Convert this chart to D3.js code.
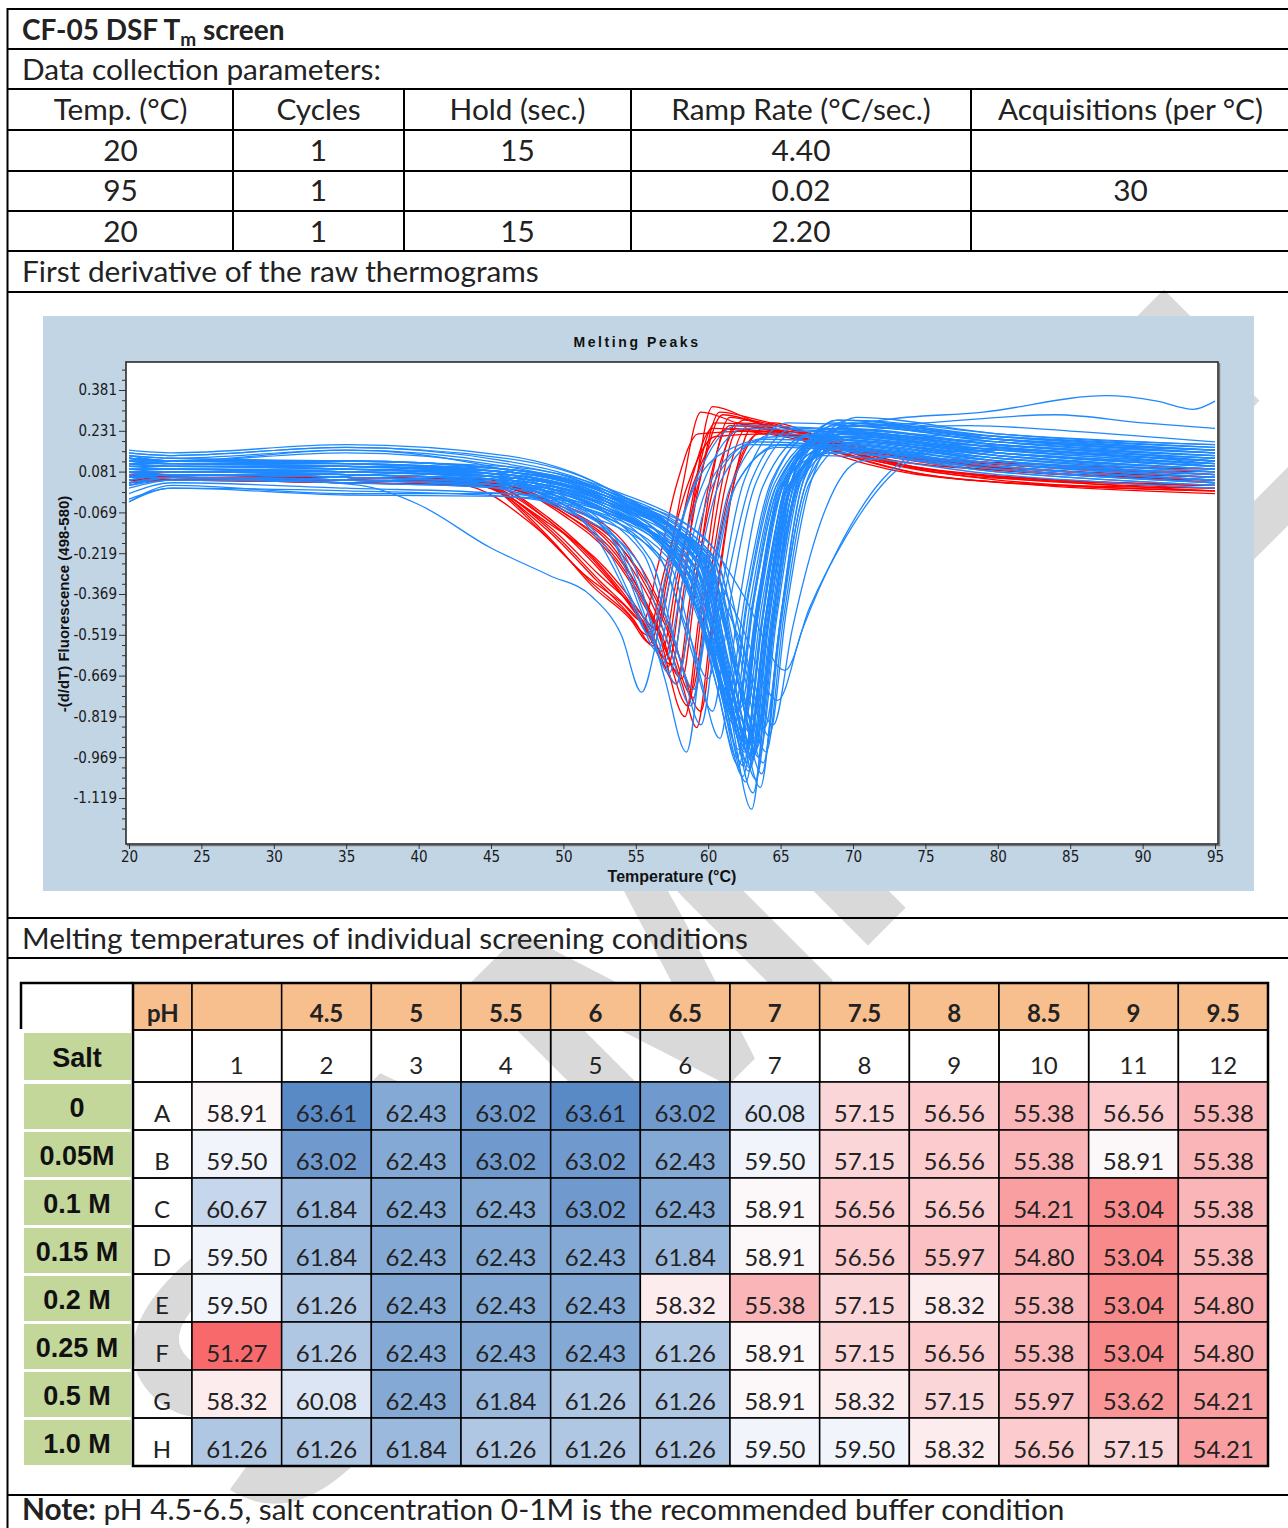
<!DOCTYPE html>
<html>
<head>
<meta charset="utf-8">
<script src="https://cdn.jsdelivr.net/npm/d3@7"></script>
<style>
  body { margin: 0; background: #fff; }
  svg  { display: block; }
  .doc    { font-family: Lato, 'Open Sans', sans-serif; fill: #222; }
  .axis text { font-family: 'Liberation Sans Narrow', 'DejaVu Sans Condensed', 'Liberation Sans', sans-serif; font-size: 15px; fill: #1a1a1a; }
  .axis line { stroke: #333; }
  .axis .domain { display: none; }
</style>
</head>
<body>
<script>
// ========================================
// Values read from the sheet
// ========================================
const paramHeaders = ['Temp. (°C)', 'Cycles', 'Hold (sec.)', 'Ramp Rate (°C/sec.)', 'Acquisitions (per °C)'];
const paramRows = [
  ['20', '1', '15', '4.40', ''],
  ['95', '1', '',   '0.02', '30'],
  ['20', '1', '15', '2.20', '']
];

// Melting peaks plot: axis ticks
const xTicks = [20, 25, 30, 35, 40, 45, 50, 55, 60, 65, 70, 75, 80, 85, 90, 95];
const yTicks = [0.381, 0.231, 0.081, -0.069, -0.219, -0.369, -0.519, -0.669, -0.819, -0.969, -1.119];

// Melting peaks plot: [temperature, -(d/dT)] points
const redCurves = [
  [[20,.06],[23,.06],[35,.05],[44,.04],[49,-.16],[52,-.34],[54.6,-.46],[56,-.55],[57,-.33],[58.2,.02],[59.5,.3],[62,.26],[67,.2],[73,.12],[82,.08],[95,.05]],
  [[20,.05],[23,.05],[35,.05],[45,.03],[50,-.06],[54,-.22],[56.5,-.45],[58.2,-.7],[59.2,-.86],[60.2,-.5],[61.7,.02],[63,.2],[64.5,.26],[68,.2],[74,.1],[83,.05],[95,.01]],
  [[20,.07],[23,.06],[35,.06],[45,.04],[50,-.05],[54,-.2],[56.5,-.4],[58,-.6],[58.9,-.72],[59.8,-.42],[61.2,.03],[62.8,.25],[66,.21],[72,.15],[82,.1],[95,.08]],
  [[20,.08],[23,.07],[35,.06],[44,.05],[49,-.1],[52.5,-.28],[55.5,-.47],[57.5,-.63],[58.3,-.36],[59.2,.05],[60.3,.32],[63,.27],[68,.17],[74,.08],[83,.03],[95,.0]],
  [[20,.04],[23,.05],[35,.04],[44,.03],[49,-.12],[52.5,-.3],[55,-.42],[56.5,-.5],[57.5,-.28],[58.8,.04],[60.3,.24],[64,.22],[70,.16],[78,.11],[95,.06]],
  [[20,.06],[23,.06],[35,.05],[45,.04],[50,-.08],[53.5,-.24],[56.3,-.48],[58.2,-.68],[59,-.4],[60.2,.04],[61.5,.28],[64.5,.24],[69,.15],[75,.07],[85,.03],[95,.02]],
  [[20,.05],[23,.05],[35,.04],[43,.03],[48,-.12],[51.5,-.3],[54,-.4],[55.5,-.47],[56.5,-.27],[57.8,.03],[59.3,.22],[63,.23],[68,.19],[75,.13],[95,.09]],
  [[20,.07],[23,.07],[35,.06],[44,.04],[49,-.1],[53,-.3],[55.5,-.48],[57,-.6],[57.9,-.34],[59.1,.03],[60.5,.26],[63.5,.25],[68,.18],[74,.1],[84,.05],[95,.03]],
  [[20,.05],[23,.06],[35,.05],[45,.03],[50,-.07],[54,-.25],[56.8,-.52],[58.6,-.78],[59.5,-.46],[60.8,.0],[62,.23],[65.5,.23],[70,.17],[77,.11],[95,.05]],
  [[20,.06],[23,.06],[35,.05],[44,.04],[49,-.13],[52.5,-.32],[55.3,-.47],[56.8,-.58],[57.8,-.32],[59.4,.05],[61,.29],[64,.25],[69,.14],[76,.06],[95,.01]],
  [[20,.07],[23,.07],[35,.06],[45,.05],[50,-.04],[54.5,-.2],[57.3,-.48],[59.5,-.8],[60.4,-.46],[61.7,.02],[63,.24],[66.5,.22],[71,.16],[78,.12],[95,.07]],
  [[20,.04],[23,.05],[35,.04],[44,.03],[49,-.11],[53,-.28],[56,-.5],[57.8,-.7],[58.7,-.4],[60,.02],[61.5,.25],[65,.23],[70,.14],[78,.07],[95,.02]],
  [[20,.06],[23,.06],[35,.05],[44,.04],[48.5,-.14],[52,-.33],[54.4,-.44],[55.8,-.52],[56.9,-.3],[58.5,.02],[60.5,.21],[64,.22],[69,.18],[76,.12],[95,.06]],
  [[20,.05],[23,.05],[35,.05],[45,.03],[50,-.07],[53.8,-.25],[56.3,-.47],[58,-.66],[58.9,-.38],[60.4,.03],[62.5,.27],[66,.23],[71,.13],[79,.06],[95,.03]],
  [[20,.07],[23,.07],[35,.06],[44,.05],[49,-.09],[52.8,-.28],[55.6,-.48],[57.2,-.64],[58.1,-.36],[59.4,.04],[60.8,.3],[63.5,.27],[68.5,.2],[75,.12],[85,.08],[95,.04]],
  [[20,.06],[23,.06],[35,.05],[45,.04],[50,-.06],[54.3,-.22],[57,-.48],[59,-.75],[59.9,-.43],[61.5,.01],[63.5,.22],[67,.21],[72,.12],[80,.05],[95,.01]],
  [[20,.05],[23,.05],[35,.04],[44,.03],[48.8,-.13],[52.3,-.32],[54.8,-.46],[56.2,-.56],[57.2,-.31],[59,.04],[61.5,.24],[65,.22],[70,.16],[77,.1],[95,.05]],
  [[20,.06],[23,.06],[35,.05],[45,.04],[50,-.06],[54,-.24],[56.6,-.52],[58.4,-.82],[59.3,-.48],[60.6,.02],[62,.26],[65.5,.24],[70,.15],[77,.08],[95,.03]]
];

const blueMainCurves = [
  [[20,.10],[23,.09],[35,.08],[46,.06],[53,-.02],[59,-.24],[61,-.66],[62.5,-.95],[63.7,-.48],[65.5,.06],[68.5,.24],[80,.18],[95,.14]],
  [[20,.05],[23,.07],[35,.06],[46,.04],[53,-.05],[59.3,-.28],[61.3,-.72],[62.8,-1.02],[64,-.5],[65.8,.04],[68.8,.19],[80,.12],[95,.07]],
  [[20,.14],[23,.12],[35,.15],[46,.1],[53,.0],[59.5,-.22],[61.5,-.7],[63,-.98],[64.2,-.47],[66,.08],[69,.27],[80,.2],[95,.16]],
  [[20,-.03],[23,.03],[35,.0],[46,.0],[53,-.06],[58.7,-.3],[60.7,-.64],[62.2,-.9],[63.4,-.44],[65.2,.03],[68.2,.17],[80,.1],[95,.05]],
  [[20,.08],[23,.08],[35,.07],[46,.05],[53,-.03],[59.8,-.26],[61.8,-.74],[63.3,-1.05],[64.5,-.52],[66.3,.05],[69.3,.22],[80,.16],[95,.11]],
  [[20,.12],[23,.11],[35,.1],[46,.07],[53,-.04],[58.3,-.3],[60.3,-.6],[61.8,-.85],[63,-.42],[64.8,.04],[67.8,.2],[80,.15],[95,.1]],
  [[20,.03],[23,.06],[35,.04],[46,.02],[53,-.07],[59.1,-.27],[61.1,-.66],[62.6,-.92],[63.8,-.45],[65.6,.03],[68.6,.16],[80,.09],[95,.04]],
  [[20,.16],[23,.15],[35,.18],[46,.14],[53,.02],[59.6,-.25],[61.6,-.78],[63.1,-1.1],[64.3,-.55],[66.1,.07],[69.1,.26],[80,.21],[95,.17]],
  [[20,.07],[23,.07],[35,.06],[46,.04],[53,-.05],[58.5,-.28],[60.5,-.58],[62,-.8],[63.2,-.38],[65,.05],[68,.21],[80,.14],[95,.09]],
  [[20,.1],[23,.1],[35,.09],[46,.06],[53,-.01],[60,-.24],[62,-.68],[63.5,-.97],[64.7,-.47],[66.5,.06],[69.5,.25],[80,.19],[95,.15]],
  [[20,-.02],[23,.02],[35,-.005],[46,-.01],[53,-.08],[58.9,-.31],[60.9,-.7],[62.4,-1.0],[63.6,-.5],[65.4,.02],[68.4,.15],[80,.08],[95,.03]],
  [[20,.13],[23,.12],[35,.12],[46,.09],[53,-.03],[58,-.29],[60,-.56],[61.5,-.78],[62.7,-.38],[64.5,.05],[67.5,.23],[80,.17],[95,.12]],
  [[20,.06],[23,.08],[35,.07],[46,.05],[53,-.04],[59.4,-.25],[61.4,-.62],[62.9,-.88],[64.1,-.43],[65.9,.04],[68.9,.18],[80,.11],[95,.06]],
  [[20,.11],[23,.1],[35,.1],[46,.08],[53,.01],[60.2,-.22],[62.2,-.72],[63.7,-1.03],[64.9,-.5],[66.7,.07],[69.7,.27],[80,.22],[95,.18]],
  [[20,.04],[23,.06],[35,.05],[46,.03],[53,-.06],[58.6,-.3],[60.6,-.67],[62.1,-.94],[63.3,-.46],[65.1,.03],[68.1,.2],[80,.13],[95,.08]],
  [[20,.09],[23,.09],[35,.08],[46,.06],[53,-.02],[59.5,-.27],[61.5,-.8],[63,-1.16],[64.2,-.58],[66,.04],[69,.22],[80,.15],[95,.1]],
  [[20,.15],[23,.14],[35,.17],[46,.12],[53,.01],[59.2,-.24],[61.2,-.7],[62.7,-.99],[63.9,-.49],[65.7,.07],[68.7,.25],[80,.2],[95,.16]],
  [[20,-.03],[23,.02],[35,.01],[46,-.01],[53,-.09],[58.4,-.32],[60.4,-.6],[61.9,-.83],[63.1,-.41],[64.9,.02],[67.9,.14],[80,.07],[95,.02]],
  [[20,.07],[23,.08],[35,.08],[46,.06],[53,-.02],[59.9,-.23],[61.9,-.66],[63.4,-.93],[64.6,-.45],[66.4,.05],[69.4,.21],[80,.15],[95,.1]],
  [[20,.12],[23,.11],[35,.11],[46,.08],[53,-.01],[58.8,-.26],[60.8,-.62],[62.3,-.87],[63.5,-.43],[65.3,.05],[68.3,.24],[80,.18],[95,.13]],
  [[20,.05],[23,.07],[35,.06],[46,.04],[53,-.04],[60.5,-.24],[62.5,-.67],[64,-.95],[65.2,-.46],[67,.04],[70,.19],[80,.12],[95,.07]],
  [[20,.13],[23,.12],[35,.16],[46,.11],[53,.0],[59.1,-.27],[61.1,-.75],[62.6,-1.06],[63.8,-.53],[65.6,.06],[68.6,.26],[80,.2],[95,.15]],
  [[20,.08],[23,.08],[35,.07],[46,.05],[53,-.05],[58.1,-.28],[60.1,-.55],[61.6,-.76],[62.8,-.37],[64.6,.04],[67.6,.2],[80,.14],[95,.09]],
  [[20,.03],[23,.05],[35,.05],[46,.03],[53,-.06],[59.7,-.27],[61.7,-.68],[63.2,-.96],[64.4,-.47],[66.2,.03],[69.2,.17],[80,.1],[95,.05]],
  [[20,.1],[23,.1],[35,.09],[46,.07],[53,-.02],[59.3,-.25],[61.3,-.65],[62.8,-.91],[64,-.45],[65.8,.05],[68.8,.23],[80,.17],[95,.12]],
  [[20,.14],[23,.13],[35,.12],[46,.1],[53,.02],[60.7,-.22],[62.7,-.63],[64.2,-.89],[65.4,-.43],[67.2,.06],[70.2,.28],[80,.22],[95,.18]],
  [[20,.06],[23,.07],[35,.06],[46,.04],[53,-.05],[58.5,-.31],[60.5,-.69],[62,-.97],[63.2,-.48],[65,.03],[68,.18],[80,.11],[95,.06]],
  [[20,.11],[23,.11],[35,.1],[46,.08],[53,-.01],[60.1,-.26],[62.1,-.76],[63.6,-1.08],[64.8,-.54],[66.6,.05],[69.6,.25],[80,.19],[95,.14]],
  [[20,.0],[23,.04],[35,.02],[46,.0],[53,-.07],[59,-.29],[61,-.6],[62.5,-.84],[63.7,-.41],[65.5,.02],[68.5,.15],[80,.08],[95,.03]],
  [[20,.09],[23,.09],[35,.09],[46,.07],[53,-.03],[57.9,-.27],[59.9,-.52],[61.4,-.73],[62.6,-.36],[64.4,.05],[67.4,.22],[80,.16],[95,.11]],
  [[20,.07],[23,.08],[35,.07],[46,.05],[53,-.03],[60.3,-.24],[62.3,-.7],[63.8,-.99],[65,-.49],[66.8,.04],[69.8,.21],[80,.14],[95,.09]],
  [[20,.15],[23,.14],[35,.17],[46,.13],[53,.02],[59.4,-.24],[61.4,-.71],[62.9,-1.01],[64.1,-.5],[65.9,.07],[68.9,.27],[80,.21],[95,.16]],
  [[20,.04],[23,.06],[35,.05],[46,.03],[53,-.06],[58.7,-.28],[60.7,-.56],[62.2,-.79],[63.4,-.39],[65.2,.03],[68.2,.17],[80,.1],[95,.05]],
  [[20,.12],[23,.12],[35,.11],[46,.08],[53,-.01],[59.8,-.24],[61.8,-.64],[63.3,-.9],[64.5,-.44],[66.3,.06],[69.3,.24],[80,.18],[95,.13]],
  [[20,.06],[23,.07],[35,.06],[46,.04],[53,-.06],[58.2,-.3],[60.2,-.58],[61.7,-.82],[62.9,-.4],[64.7,.03],[67.7,.19],[80,.12],[95,.07]],
  [[20,.09],[23,.09],[35,.08],[46,.06],[53,-.03],[58.9,-.29],[60.9,-.74],[62.4,-1.04],[63.6,-.52],[65.4,.04],[68.4,.23],[80,.17],[95,.12]],
  [[20,.13],[23,.12],[35,.12],[46,.09],[53,.0],[60.4,-.23],[62.4,-.61],[63.9,-.86],[65.1,-.42],[66.9,.06],[69.9,.26],[80,.2],[95,.15]],
  [[20,.02],[23,.05],[35,.04],[46,.02],[53,-.07],[59.2,-.28],[61.2,-.67],[62.7,-.95],[63.9,-.47],[65.7,.03],[68.7,.16],[80,.09],[95,.04]],
  [[20,.08],[23,.09],[35,.08],[46,.06],[53,-.02],[59.6,-.23],[61.6,-.59],[63.1,-.83],[64.3,-.41],[66.1,.05],[69.1,.22],[80,.15],[95,.1]],
  [[20,.11],[23,.1],[35,.1],[46,.07],[53,-.02],[58.6,-.3],[60.6,-.71],[62.1,-1.0],[63.3,-.5],[65.1,.05],[68.1,.2],[80,.13],[95,.08]]
];

const blueEarlyCurves = [
  [[20,.07],[23,.08],[35,.07],[44,.05],[50,-.04],[54.5,-.22],[57,-.68],[58.5,-.95],[59.7,-.5],[61.5,.02],[64.5,.22],[80,.16],[95,.12]],
  [[20,.1],[23,.1],[35,.09],[44,.07],[50,-.02],[53.5,-.18],[55.5,-.45],[57,-.62],[58.2,-.33],[60,.03],[63,.18],[80,.11],[95,.06]],
  [[20,.05],[23,.07],[35,.06],[44,.04],[50,-.05],[53,-.2],[55,-.42],[56.5,-.58],[57.7,-.3],[59.5,.02],[62.5,.24],[80,.19],[95,.15]],
  [[20,.12],[23,.11],[35,.11],[44,.08],[50,-.01],[54,-.2],[56.3,-.5],[57.8,-.7],[59,-.36],[60.8,.04],[63.8,.2],[80,.13],[95,.08]],
  [[20,.03],[23,.06],[35,.05],[44,.03],[50,-.06],[55,-.24],[57.3,-.56],[58.8,-.78],[60,-.4],[61.8,.02],[64.8,.17],[80,.09],[95,.04]],
  [[20,.09],[23,.09],[35,.08],[44,.06],[50,-.04],[52.5,-.18],[54.5,-.38],[56,-.52],[57.2,-.27],[59,.03],[62,.25],[80,.2],[95,.16]],
  [[20,.14],[23,.13],[35,.16],[44,.11],[50,.01],[56,-.24],[58,-.6],[59.5,-.85],[60.7,-.43],[62.5,.05],[65.5,.26],[80,.21],[95,.17]],
  [[20,.06],[23,.07],[35,.07],[44,.05],[50,-.03],[53.8,-.2],[55.8,-.47],[57.3,-.66],[58.5,-.34],[60.3,.03],[63.3,.19],[80,.12],[95,.07]],
  [[20,.08],[23,.08],[35,.08],[44,.06],[50,-.02],[56.8,-.25],[58.8,-.57],[60.3,-.8],[61.5,-.4],[63.3,.04],[66.3,.23],[80,.17],[95,.13]],
  [[20,.11],[23,.1],[35,.1],[44,.07],[50,-.02],[55.5,-.22],[57.5,-.52],[59,-.72],[60.2,-.37],[62,.04],[65,.18],[80,.1],[95,.05]],
  [[20,.04],[23,.06],[35,.05],[44,.03],[50,-.05],[57.3,-.26],[59.3,-.64],[60.8,-.9],[62,-.45],[63.8,.03],[66.8,.21],[80,.15],[95,.11]],
  [[20,.13],[23,.12],[35,.11],[44,.09],[50,.0],[56.5,-.22],[58.5,-.49],[60,-.68],[61.2,-.35],[63,.05],[66,.24],[80,.18],[95,.14]],
  [[20,.06],[30,.05],[36,.03],[40,-.04],[45,-.2],[49,-.3],[52,-.38],[54,-.52],[55.4,-.73],[56.6,-.5],[58.5,-.05],[61,.15],[65,.21],[80,.14],[95,.09]]
];

const blueLateCurves = [
  [[20,.08],[23,.08],[35,.07],[46,.05],[53,-.03],[59,-.18],[62,-.45],[64.8,-.76],[66.5,-.5],[69,-.2],[72,.05],[76,.17],[85,.15],[95,.1]],
  [[20,.1],[23,.1],[35,.09],[46,.07],[53,-.01],[59.5,-.15],[62.5,-.38],[65.3,-.65],[67,-.42],[69.5,-.16],[72.5,.06],[77,.18],[85,.16],[95,.12]],
  [[20,.06],[23,.07],[35,.06],[46,.04],[53,-.04],[59,-.2],[62.3,-.55],[64.5,-.85],[65.8,-.5],[67.8,-.1],[70.5,.12],[80,.16],[95,.11]],
  [[20,.13],[23,.12],[35,.12],[46,.09],[53,.0],[59.6,-.24],[61.6,-.7],[63.1,-.97],[64.3,-.48],[66.1,.1],[69,.24],[72,.27],[79,.3],[87.5,.36],[91,.34],[93.5,.31],[95,.34]],
  [[20,.12],[23,.12],[35,.11],[46,.09],[53,.01],[59.3,-.23],[61.3,-.66],[62.8,-.92],[64,-.44],[65.8,.09],[69,.24],[75,.26],[84,.29],[90,.26],[95,.24]],
  [[20,.11],[23,.11],[35,.1],[46,.08],[53,.0],[59.9,-.22],[61.9,-.62],[63.4,-.88],[64.6,-.42],[66.4,.08],[70,.23],[78,.25],[85,.23],[95,.19]]
];

// Melting temperatures (Tm, °C) per well
const phLabels   = ['', '4.5', '5', '5.5', '6', '6.5', '7', '7.5', '8', '8.5', '9', '9.5'];
const colNumbers = [1, 2, 3, 4, 5, 6, 7, 8, 9, 10, 11, 12];
const rowLetters = ['A', 'B', 'C', 'D', 'E', 'F', 'G', 'H'];
const saltLabels = ['0', '0.05M', '0.1 M', '0.15 M', '0.2 M', '0.25 M', '0.5 M', '1.0 M'];
const tmValues = [
  [58.91, 63.61, 62.43, 63.02, 63.61, 63.02, 60.08, 57.15, 56.56, 55.38, 56.56, 55.38],
  [59.50, 63.02, 62.43, 63.02, 63.02, 62.43, 59.50, 57.15, 56.56, 55.38, 58.91, 55.38],
  [60.67, 61.84, 62.43, 62.43, 63.02, 62.43, 58.91, 56.56, 56.56, 54.21, 53.04, 55.38],
  [59.50, 61.84, 62.43, 62.43, 62.43, 61.84, 58.91, 56.56, 55.97, 54.80, 53.04, 55.38],
  [59.50, 61.26, 62.43, 62.43, 62.43, 58.32, 55.38, 57.15, 58.32, 55.38, 53.04, 54.80],
  [51.27, 61.26, 62.43, 62.43, 62.43, 61.26, 58.91, 57.15, 56.56, 55.38, 53.04, 54.80],
  [58.32, 60.08, 62.43, 61.84, 61.26, 61.26, 58.91, 58.32, 57.15, 55.97, 53.62, 54.21],
  [61.26, 61.26, 61.84, 61.26, 61.26, 61.26, 59.50, 59.50, 58.32, 56.56, 57.15, 54.21]
];

// ========================================
// Page size and base svg
// ========================================
const width = 1288,
  height = 1528,
  textFont = "Lato, 'Open Sans', sans-serif",
  docSize = 29.8,                 // body text of the sheet
  cellSize = 24,                  // numbers inside the plate table
  narrowBold = "'Liberation Sans Narrow', 'Arial Narrow', 'Liberation Sans', sans-serif";

const svg = d3.select('body')
  .append('svg')
    .attr('width', width)
    .attr('height', height);

// ========================================
// Watermark (behind everything)
// ========================================
svg.append('text')
    .attr('transform', 'translate(720, 905) rotate(-45)')
    .attr('text-anchor', 'middle')
    .attr('dy', '0.36em')
    .attr('fill', '#d9d9d9')
    .style('font', "bold 370px 'Liberation Sans', Arial, sans-serif")
    .text('SAMPLE');

// ========================================
// Outer sheet frame and section rows
// ========================================
const frame = svg.append('g').attr('class', 'doc');
const rowLines = [9, 49, 89, 130, 171, 211, 251, 292, 918, 958, 1495];

frame.selectAll('line.row')
  .data(rowLines)
  .join('line')
    .attr('x1', 7).attr('x2', width + 2)
    .attr('y1', d => d).attr('y2', d => d)
    .attr('stroke', '#000')
    .attr('stroke-width', 2);

frame.append('line')
    .attr('x1', 7.5).attr('x2', 7.5)
    .attr('y1', 8).attr('y2', height)
    .attr('stroke', '#000')
    .attr('stroke-width', 2);

// title with subscript m
const title = frame.append('text')
    .attr('x', 22).attr('y', 40)
    .style('font', `bold 28px ${textFont}`);
title.append('tspan').text('CF-05 DSF T');
title.append('tspan').attr('dy', 6).style('font-size', '19px').text('m');
title.append('tspan').attr('dy', -6).text(' screen');

const sectionLabels = [
  { y: 80,  text: 'Data collection parameters:' },
  { y: 282, text: 'First derivative of the raw thermograms' },
  { y: 949, text: 'Melting temperatures of individual screening conditions' }
];
frame.selectAll('text.section')
  .data(sectionLabels)
  .join('text')
    .attr('class', 'section')
    .attr('x', 22)
    .attr('y', d => d.y)
    .style('font', `${docSize}px ${textFont}`)
    .text(d => d.text);

// note row sits at the bottom edge of the page
const note = frame.append('text')
    .attr('x', 22).attr('y', 1520)
    .style('font', `${docSize}px ${textFont}`);
note.append('tspan').style('font-weight', 'bold').text('Note:');
note.append('tspan').text(' pH 4.5-6.5, salt concentration 0-1M is the recommended buffer condition');

// ========================================
// Data collection parameter table
// ========================================
const colEdges = [8, 233, 404, 631, 971, 1290];
const paramTop = 89, paramRowH = 40.7;

frame.selectAll('line.pcol')
  .data(colEdges.slice(1, 5))
  .join('line')
    .attr('x1', d => d).attr('x2', d => d)
    .attr('y1', paramTop).attr('y2', 251)
    .attr('stroke', '#000')
    .attr('stroke-width', 2);

[paramHeaders, ...paramRows].forEach((row, r) => {
  frame.selectAll(null)
    .data(row)
    .join('text')
      .attr('x', (d, i) => (colEdges[i] + colEdges[i + 1]) / 2)
      .attr('y', paramTop + r * paramRowH + 31)
      .attr('text-anchor', 'middle')
      .style('font', `${docSize}px ${textFont}`)
      .text(d => d);
});

// ========================================
// Melting Peaks plot
// ========================================
const plot = { left: 126, right: 1218, top: 362, bottom: 844 };

const xScale = d3.scaleLinear().domain([20, 95]).range([129, 1215]);
const yScale = d3.scaleLinear().domain([0.381, -1.119]).range([390, 798]);

const chart = svg.append('g');

chart.append('rect')
    .attr('x', 43).attr('y', 316)
    .attr('width', 1211).attr('height', 575)
    .attr('fill', '#c2d5e5');

chart.append('rect')
    .attr('x', plot.left).attr('y', plot.top)
    .attr('width', plot.right - plot.left).attr('height', plot.bottom - plot.top)
    .attr('fill', '#fff');

svg.append('clipPath')
    .attr('id', 'plotClip')
  .append('rect')
    .attr('x', plot.left).attr('y', plot.top)
    .attr('width', plot.right - plot.left).attr('height', plot.bottom - plot.top);

const line = d3.line()
  .x(d => xScale(d[0]))
  .y(d => yScale(d[1]))
  .curve(d3.curveMonotoneX);

const traces = chart.append('g').attr('clip-path', 'url(#plotClip)');

const traceGroups = [
  { curves: redCurves,       color: '#ff0000' },
  { curves: blueMainCurves,  color: '#1e88ff' },
  { curves: blueEarlyCurves, color: '#1e88ff' },
  { curves: blueLateCurves,  color: '#1e88ff' }
];
traceGroups.forEach(group => {
  traces.append('g')
    .selectAll('path')
    .data(group.curves)
    .join('path')
      .attr('d', line)
      .attr('fill', 'none')
      .attr('stroke', group.color)
      .attr('stroke-width', 1.3);
});

// plot frame: dark edge plus a grey shadow right/bottom
chart.append('rect')
    .attr('x', plot.left).attr('y', plot.top)
    .attr('width', plot.right - plot.left).attr('height', plot.bottom - plot.top)
    .attr('fill', 'none')
    .attr('stroke', '#2b2b2b')
    .attr('stroke-width', 1.6);
chart.append('path')
    .attr('d', `M${plot.right + 1.6},${plot.top + 1} V${plot.bottom + 1.6} H${plot.left + 1}`)
    .attr('fill', 'none')
    .attr('stroke', '#777')
    .attr('stroke-width', 1.2);

// --- Y axis (major ticks with labels, minor ticks without)
chart.append('g')
    .attr('class', 'axis')
    .attr('transform', `translate(${plot.left}, 0)`)
    .call(d3.axisLeft(yScale).tickValues(yTicks).tickSize(7).tickPadding(2).tickFormat(d => d.toFixed(3)));

const yMinor = yTicks
  .flatMap(t => [t + 0.0375, t + 0.075, t + 0.1125])
  .concat([-1.1565, -1.194, -1.2315])
  .filter(v => yScale(v) > plot.top + 2);
chart.append('g')
    .attr('class', 'axis')
    .attr('transform', `translate(${plot.left}, 0)`)
    .call(d3.axisLeft(yScale).tickValues(yMinor).tickSize(4).tickFormat(''));

// --- X axis
chart.append('g')
    .attr('class', 'axis')
    .attr('transform', `translate(0, ${plot.bottom})`)
    .call(d3.axisBottom(xScale).tickValues(xTicks).tickSize(5).tickPadding(2));

// --- Titles
chart.append('text')
    .attr('x', 637).attr('y', 347)
    .attr('text-anchor', 'middle')
    .attr('fill', '#111')
    .style('font', "bold 14px 'Liberation Sans', Arial, sans-serif")
    .style('letter-spacing', '2.6px')
    .text('Melting Peaks');

chart.append('text')
    .attr('x', 672).attr('y', 882)
    .attr('text-anchor', 'middle')
    .attr('fill', '#111')
    .style('font', `bold 16px ${narrowBold}`)
    .text('Temperature (°C)');

chart.append('text')
    .attr('transform', 'translate(69, 604) rotate(-90)')
    .attr('text-anchor', 'middle')
    .attr('fill', '#111')
    .style('font', `bold 15px ${narrowBold}`)
    .text('-(d/dT) Fluorescence (498-580)');

// ========================================
// Tm heat map table
// ========================================
const hx = d3.scaleBand().domain(colNumbers).range([192, 1268]);
const hy = d3.scaleBand().domain(rowLetters).range([1082, 1466]);
const headTop = 983, numTop = 1030, letterX = 133;

const allTm = tmValues.flat();
const tmColor = d3.scaleLinear()
  .domain([d3.min(allTm), d3.median(allTm), d3.max(allTm)])
  .range(['#f8696b', '#fcfcff', '#5a8ac6']);

const heat = svg.append('g').attr('class', 'doc');

// pH header row (orange)
heat.append('rect')
    .attr('x', letterX).attr('y', headTop)
    .attr('width', hx(1) - letterX).attr('height', numTop - headTop)
    .attr('fill', '#f7be8e').attr('stroke', '#000').attr('stroke-width', 1.5);
heat.append('text')
    .attr('x', 147).attr('y', numTop - 8)
    .style('font', `bold ${cellSize}px ${textFont}`)
    .text('pH');

heat.selectAll('rect.ph')
  .data(colNumbers)
  .join('rect')
    .attr('x', d => hx(d)).attr('y', headTop)
    .attr('width', hx.bandwidth()).attr('height', numTop - headTop)
    .attr('fill', '#f7be8e').attr('stroke', '#000').attr('stroke-width', 1.5);
heat.selectAll('text.ph')
  .data(colNumbers)
  .join('text')
    .attr('x', d => hx(d) + hx.bandwidth() / 2)
    .attr('y', numTop - 8)
    .attr('text-anchor', 'middle')
    .style('font', `bold ${cellSize}px ${textFont}`)
    .text((d, i) => phLabels[i]);

// well number row
heat.append('rect')
    .attr('x', letterX).attr('y', numTop)
    .attr('width', hx(1) - letterX).attr('height', hy('A') - numTop)
    .attr('fill', 'none').attr('stroke', '#000').attr('stroke-width', 1.5);
heat.selectAll('rect.num')
  .data(colNumbers)
  .join('rect')
    .attr('x', d => hx(d)).attr('y', numTop)
    .attr('width', hx.bandwidth()).attr('height', hy('A') - numTop)
    .attr('fill', 'none').attr('stroke', '#000').attr('stroke-width', 1.5);
heat.selectAll('text.num')
  .data(colNumbers)
  .join('text')
    .attr('x', d => hx(d) + hx.bandwidth() / 2)
    .attr('y', hy('A') - 8)
    .attr('text-anchor', 'middle')
    .style('font', `${cellSize}px ${textFont}`)
    .text(d => d);

// row letters
heat.selectAll('rect.letter')
  .data(rowLetters)
  .join('rect')
    .attr('x', letterX).attr('y', d => hy(d))
    .attr('width', hx(1) - letterX).attr('height', hy.bandwidth())
    .attr('fill', 'none').attr('stroke', '#000').attr('stroke-width', 1.5);
heat.selectAll('text.letter')
  .data(rowLetters)
  .join('text')
    .attr('x', 162)
    .attr('y', d => hy(d) + hy.bandwidth() - 8)
    .attr('text-anchor', 'middle')
    .style('font', `${cellSize}px ${textFont}`)
    .text(d => d);

// Tm cells
const cells = tmValues.flatMap((row, r) => row.map((v, c) => ({ row: rowLetters[r], col: colNumbers[c], v })));
heat.selectAll('rect.cell')
  .data(cells)
  .join('rect')
    .attr('x', d => hx(d.col)).attr('y', d => hy(d.row))
    .attr('width', hx.bandwidth()).attr('height', hy.bandwidth())
    .attr('fill', d => tmColor(d.v))
    .attr('stroke', '#000').attr('stroke-width', 1.5);
heat.selectAll('text.cell')
  .data(cells)
  .join('text')
    .attr('x', d => hx(d.col) + hx.bandwidth() / 2)
    .attr('y', d => hy(d.row) + hy.bandwidth() - 8)
    .attr('text-anchor', 'middle')
    .style('font', `${cellSize}px ${textFont}`)
    .text(d => d.v.toFixed(2));

// outer border of the plate
heat.append('rect')
    .attr('x', letterX).attr('y', headTop)
    .attr('width', 1268 - letterX).attr('height', 1466 - headTop)
    .attr('fill', 'none').attr('stroke', '#000').attr('stroke-width', 2.5);

// salt column (green)
heat.append('path')
    .attr('d', `M21,1029 V${headTop} H${letterX}`)
    .attr('fill', 'none').attr('stroke', '#000').attr('stroke-width', 2.5);

const saltCells = [{ label: 'Salt', y: 1033, h: 47 }]
  .concat(saltLabels.map((s, i) => ({ label: s, y: hy(rowLetters[i]) + 2, h: hy.bandwidth() - 3 })));
heat.selectAll('rect.salt')
  .data(saltCells)
  .join('rect')
    .attr('x', 24).attr('y', d => d.y)
    .attr('width', 107).attr('height', d => d.h)
    .attr('fill', '#c4d79b');
heat.selectAll('text.salt')
  .data(saltCells)
  .join('text')
    .attr('x', 77)
    .attr('y', d => d.y + d.h / 2 + 1)
    .attr('dy', '0.35em')
    .attr('text-anchor', 'middle')
    .attr('fill', '#111')
    .style('font', `bold 27px ${narrowBold}`)
    .text(d => d.label);
</script>
</body>
</html>
